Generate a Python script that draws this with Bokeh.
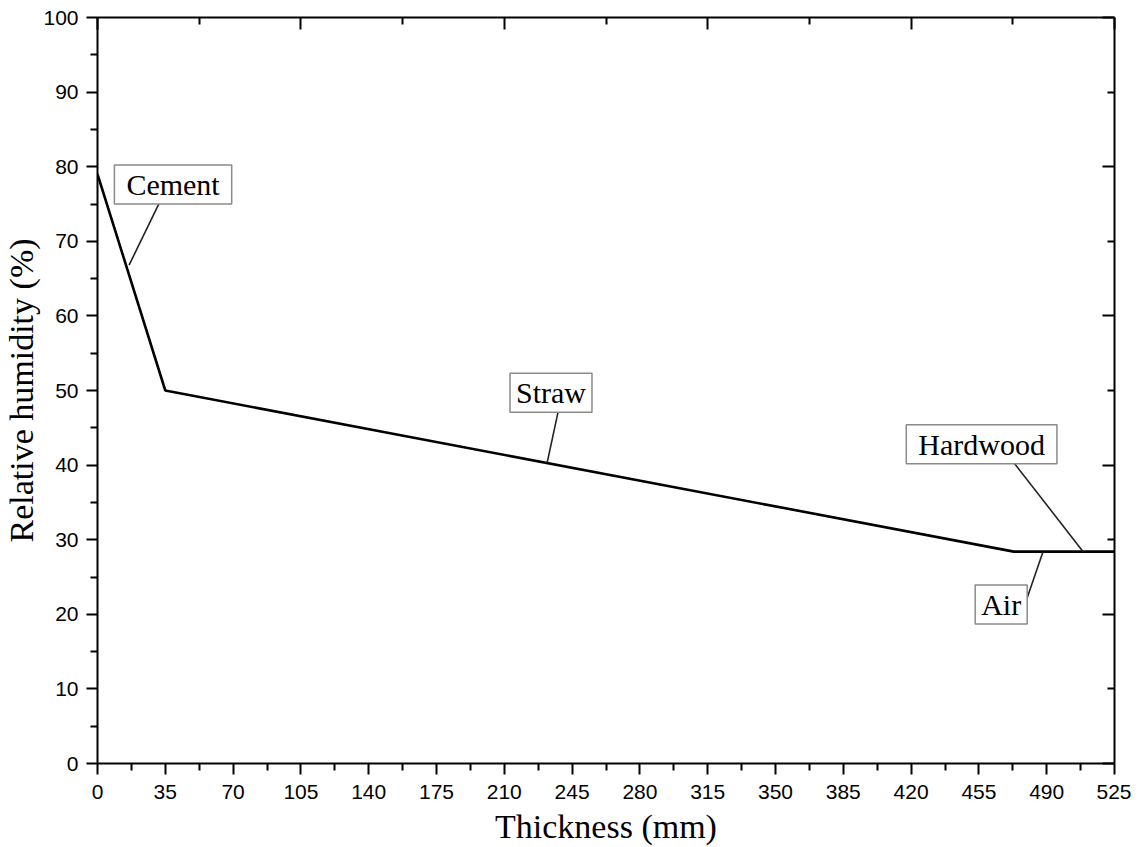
from bokeh.plotting import figure
from bokeh.models import Range1d, LinearAxis, FixedTicker, Label, ColumnDataSource, CustomJSTickFormatter
from bokeh.embed import file_html
from bokeh.resources import INLINE

# ---- data ----
thickness_mm = [0, 35, 473, 525]
relative_humidity = [79, 50, 28.4, 28.4]

x_major_ticks = [0, 35, 70, 105, 140, 175, 210, 245, 280, 315, 350, 385, 420, 455, 490, 525]
x_minor_ticks = [17.5, 52.5, 87.5, 122.5, 157.5, 192.5, 227.5, 262.5, 297.5, 332.5,
                 367.5, 402.5, 437.5, 472.5, 507.5]
y_major_ticks = [0, 10, 20, 30, 40, 50, 60, 70, 80, 90, 100]
y_minor_ticks = [5, 15, 25, 35, 45, 55, 65, 75, 85, 95]
top_major_ticks = [0, 105, 210, 315, 420, 525]
top_minor_ticks = [52.5, 157.5, 262.5, 367.5, 472.5]
right_major_ticks = [0, 20, 40, 60, 80, 100]
right_minor_ticks = [10, 30, 50, 70, 90]

layer_names = ["Cement", "Straw", "Hardwood", "Air"]
label_x = [39.0, 234.1, 456.4, 466.5]
label_y = [77.6, 49.7, 42.8, 21.3]
label_pad_x = [12, 6, 12, 6]
leader_x0 = [33.5, 238.5, 471.0, 479.0]
leader_y0 = [76.0, 48.0, 41.0, 21.5]
leader_x1 = [16.3, 232.1, 508.8, 488.1]
leader_y1 = [66.8, 40.3, 28.4, 28.4]

SERIF = "Liberation Serif"
SANS = "Liberation Sans"

p = figure(width=1131, height=847,
           x_range=Range1d(0, 525), y_range=Range1d(0, 100),
           output_backend="svg", toolbar_location=None,
           min_border_left=0, min_border_top=17, min_border_right=17, min_border_bottom=0)
p.outline_line_color = None
p.xgrid.visible = False
p.ygrid.visible = False
p.background_fill_color = "white"


def style_axis(ax, major, minor, inward, labels):
    ax.ticker = FixedTicker(ticks=major, minor_ticks=minor)
    ax.axis_line_width = 2
    ax.axis_line_color = "black"
    ax.major_tick_line_width = 2
    ax.minor_tick_line_width = 2
    ax.major_tick_line_color = "black"
    ax.minor_tick_line_color = "black"
    if inward:
        ax.major_tick_in = 12
        ax.major_tick_out = 0
        ax.minor_tick_in = 7
        ax.minor_tick_out = 0
    else:
        ax.major_tick_in = 0
        ax.major_tick_out = 11
        ax.minor_tick_in = 0
        ax.minor_tick_out = 7
    if labels:
        ax.major_label_text_font = SANS
        ax.major_label_text_font_size = "21px"
        ax.major_label_text_color = "black"
        ax.major_label_standoff = 8
        ax.axis_label_text_font = SERIF
        ax.axis_label_text_font_size = "34px"
        ax.axis_label_text_font_style = "normal"
        ax.axis_label_text_color = "black"
        ax.axis_label_standoff = 0
    else:
        ax.formatter = CustomJSTickFormatter(code="return ''")
        ax.major_label_standoff = 0
        ax.axis_label = None


xa = p.xaxis[0]
ya = p.yaxis[0]
style_axis(xa, x_major_ticks, x_minor_ticks, False, True)
style_axis(ya, y_major_ticks, y_minor_ticks, False, True)
xa.axis_label = "Thickness (mm)"
ya.axis_label = "Relative humidity (%)"
xa.major_label_standoff = 10
xa.axis_label_standoff = 6

top_ax = LinearAxis()
style_axis(top_ax, top_major_ticks, top_minor_ticks, True, False)
p.add_layout(top_ax, "above")
right_ax = LinearAxis()
style_axis(right_ax, right_major_ticks, right_minor_ticks, True, False)
p.add_layout(right_ax, "right")

src = ColumnDataSource(dict(x=thickness_mm, y=relative_humidity))
p.line("x", "y", source=src, line_color="black", line_width=2.6)

lead = ColumnDataSource(dict(x0=leader_x0, y0=leader_y0, x1=leader_x1, y1=leader_y1))
p.segment("x0", "y0", "x1", "y1", source=lead, line_color="#222222", line_width=1.6)

for name, lx, ly, px in zip(layer_names, label_x, label_y, label_pad_x):
    p.add_layout(Label(x=lx, y=ly, text=name, text_align="center", text_baseline="middle",
                       text_font=SERIF, text_font_size="30px", text_color="black",
                       background_fill_color="white", border_line_color="#8a8a8a",
                       border_line_width=1.5, padding=(px, 3)))

open("out.html", "w").write(file_html(p, INLINE))
